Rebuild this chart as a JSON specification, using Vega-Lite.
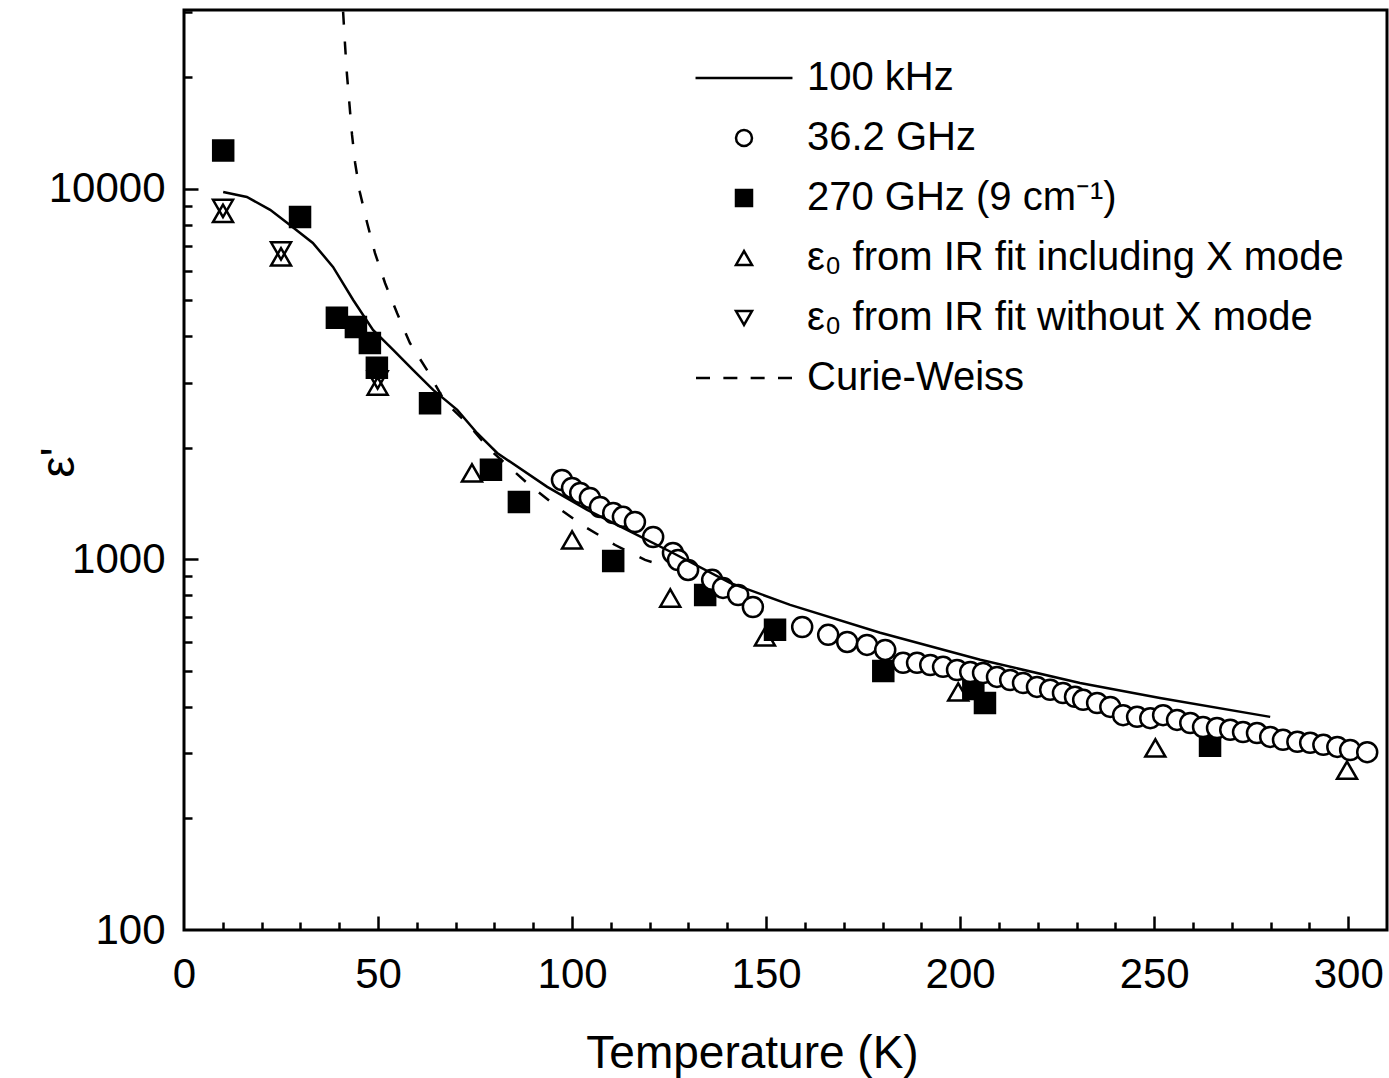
{
  "$schema": "https://vega.github.io/schema/vega-lite/v6.json",
  "width": 1203,
  "height": 920,
  "autosize": {"type": "none"},
  "padding": {"left": 184, "top": 10, "right": 2, "bottom": 148},
  "background": "white",
  "config": {
    "font": "Liberation Sans",
    "view": {"stroke": "black", "strokeWidth": 3},
    "axis": {"labelFont": "Liberation Sans", "titleFont": "Liberation Sans", "labelColor": "black", "titleColor": "black", "tickColor": "black", "grid": false, "domain": false},
    "legend": {"title": null, "orient": "none", "legendX": 540, "legendY": 48, "symbolSize": 256, "symbolStrokeWidth": 2.5,
      "labelFontSize": 40, "labelFont": "Liberation Sans", "labelColor": "black", "labelLimit": 0, "labelOffset": 43, "rowPadding": 20, "padding": 0}
  },
  "datasets": {
    "points": [
      {"T": 10.1, "eps": 12700, "series": "270 GHz (9 cm⁻¹)"},
      {"T": 29.9, "eps": 8400, "series": "270 GHz (9 cm⁻¹)"},
      {"T": 39.4, "eps": 4490, "series": "270 GHz (9 cm⁻¹)"},
      {"T": 44.3, "eps": 4240, "series": "270 GHz (9 cm⁻¹)"},
      {"T": 47.9, "eps": 3840, "series": "270 GHz (9 cm⁻¹)"},
      {"T": 49.7, "eps": 3290, "series": "270 GHz (9 cm⁻¹)"},
      {"T": 63.4, "eps": 2640, "series": "270 GHz (9 cm⁻¹)"},
      {"T": 79.1, "eps": 1745, "series": "270 GHz (9 cm⁻¹)"},
      {"T": 86.3, "eps": 1429, "series": "270 GHz (9 cm⁻¹)"},
      {"T": 110.6, "eps": 990, "series": "270 GHz (9 cm⁻¹)"},
      {"T": 134.3, "eps": 802, "series": "270 GHz (9 cm⁻¹)"},
      {"T": 152.3, "eps": 646, "series": "270 GHz (9 cm⁻¹)"},
      {"T": 180.2, "eps": 500, "series": "270 GHz (9 cm⁻¹)"},
      {"T": 203.4, "eps": 447, "series": "270 GHz (9 cm⁻¹)"},
      {"T": 206.4, "eps": 410, "series": "270 GHz (9 cm⁻¹)"},
      {"T": 264.4, "eps": 314, "series": "270 GHz (9 cm⁻¹)"},
      {"T": 10.05, "eps": 8590, "series": "ε₀ from IR fit including X mode"},
      {"T": 25.0, "eps": 6555, "series": "ε₀ from IR fit including X mode"},
      {"T": 49.9, "eps": 2938, "series": "ε₀ from IR fit including X mode"},
      {"T": 74.2, "eps": 1712, "series": "ε₀ from IR fit including X mode"},
      {"T": 100.0, "eps": 1129, "series": "ε₀ from IR fit including X mode"},
      {"T": 125.3, "eps": 787, "series": "ε₀ from IR fit including X mode"},
      {"T": 149.7, "eps": 618, "series": "ε₀ from IR fit including X mode"},
      {"T": 199.5, "eps": 439, "series": "ε₀ from IR fit including X mode"},
      {"T": 250.3, "eps": 310, "series": "ε₀ from IR fit including X mode"},
      {"T": 299.7, "eps": 270, "series": "ε₀ from IR fit including X mode"},
      {"T": 10.05, "eps": 8857, "series": "ε₀ from IR fit without X mode"},
      {"T": 25.0, "eps": 6802, "series": "ε₀ from IR fit without X mode"},
      {"T": 49.9, "eps": 3051, "series": "ε₀ from IR fit without X mode"},
      {"T": 97.4, "eps": 1639, "series": "36.2 GHz"},
      {"T": 100.0, "eps": 1560, "series": "36.2 GHz"},
      {"T": 102.1, "eps": 1512, "series": "36.2 GHz"},
      {"T": 104.6, "eps": 1466, "series": "36.2 GHz"},
      {"T": 107.2, "eps": 1386, "series": "36.2 GHz"},
      {"T": 110.6, "eps": 1335, "series": "36.2 GHz"},
      {"T": 113.1, "eps": 1303, "series": "36.2 GHz"},
      {"T": 116.2, "eps": 1262, "series": "36.2 GHz"},
      {"T": 120.9, "eps": 1150, "series": "36.2 GHz"},
      {"T": 126.0, "eps": 1041, "series": "36.2 GHz"},
      {"T": 127.3, "eps": 997, "series": "36.2 GHz"},
      {"T": 129.9, "eps": 937, "series": "36.2 GHz"},
      {"T": 136.1, "eps": 881, "series": "36.2 GHz"},
      {"T": 138.9, "eps": 838, "series": "36.2 GHz"},
      {"T": 142.8, "eps": 802, "series": "36.2 GHz"},
      {"T": 146.6, "eps": 744, "series": "36.2 GHz"},
      {"T": 159.3, "eps": 657, "series": "36.2 GHz"},
      {"T": 166.0, "eps": 626, "series": "36.2 GHz"},
      {"T": 170.9, "eps": 599, "series": "36.2 GHz"},
      {"T": 176.0, "eps": 588, "series": "36.2 GHz"},
      {"T": 180.7, "eps": 570, "series": "36.2 GHz"},
      {"T": 185.3, "eps": 526, "series": "36.2 GHz"},
      {"T": 188.9, "eps": 526, "series": "36.2 GHz"},
      {"T": 192.3, "eps": 519, "series": "36.2 GHz"},
      {"T": 195.6, "eps": 513, "series": "36.2 GHz"},
      {"T": 199.2, "eps": 503, "series": "36.2 GHz"},
      {"T": 202.6, "eps": 497, "series": "36.2 GHz"},
      {"T": 205.9, "eps": 494, "series": "36.2 GHz"},
      {"T": 209.5, "eps": 482, "series": "36.2 GHz"},
      {"T": 212.9, "eps": 473, "series": "36.2 GHz"},
      {"T": 216.2, "eps": 464, "series": "36.2 GHz"},
      {"T": 219.8, "eps": 453, "series": "36.2 GHz"},
      {"T": 223.2, "eps": 445, "series": "36.2 GHz"},
      {"T": 226.5, "eps": 436, "series": "36.2 GHz"},
      {"T": 229.6, "eps": 426, "series": "36.2 GHz"},
      {"T": 231.7, "eps": 418, "series": "36.2 GHz"},
      {"T": 235.3, "eps": 410, "series": "36.2 GHz"},
      {"T": 238.7, "eps": 400, "series": "36.2 GHz"},
      {"T": 242.0, "eps": 380, "series": "36.2 GHz"},
      {"T": 245.6, "eps": 376, "series": "36.2 GHz"},
      {"T": 249.0, "eps": 373, "series": "36.2 GHz"},
      {"T": 252.3, "eps": 380, "series": "36.2 GHz"},
      {"T": 255.9, "eps": 369, "series": "36.2 GHz"},
      {"T": 259.3, "eps": 362, "series": "36.2 GHz"},
      {"T": 262.6, "eps": 353, "series": "36.2 GHz"},
      {"T": 266.2, "eps": 351, "series": "36.2 GHz"},
      {"T": 269.6, "eps": 347, "series": "36.2 GHz"},
      {"T": 272.9, "eps": 342, "series": "36.2 GHz"},
      {"T": 276.5, "eps": 340, "series": "36.2 GHz"},
      {"T": 279.9, "eps": 332, "series": "36.2 GHz"},
      {"T": 283.2, "eps": 326, "series": "36.2 GHz"},
      {"T": 286.9, "eps": 322, "series": "36.2 GHz"},
      {"T": 290.2, "eps": 320, "series": "36.2 GHz"},
      {"T": 293.6, "eps": 316, "series": "36.2 GHz"},
      {"T": 297.2, "eps": 312, "series": "36.2 GHz"},
      {"T": 300.5, "eps": 306, "series": "36.2 GHz"},
      {"T": 304.9, "eps": 302, "series": "36.2 GHz"}
    ],
    "khz": [
      {"T": 10.1, "eps": 9810}, {"T": 16.2, "eps": 9515}, {"T": 22.2, "eps": 8780}, {"T": 27.3, "eps": 7995},
      {"T": 33.2, "eps": 7150}, {"T": 38.4, "eps": 6160}, {"T": 43.6, "eps": 5015}, {"T": 48.7, "eps": 4164},
      {"T": 53.9, "eps": 3677}, {"T": 59.0, "eps": 3247}, {"T": 64.2, "eps": 2868}, {"T": 70.4, "eps": 2533},
      {"T": 75.5, "eps": 2195}, {"T": 80.7, "eps": 1938}, {"T": 93.6, "eps": 1570}, {"T": 103.9, "eps": 1361},
      {"T": 115.7, "eps": 1179}, {"T": 126.0, "eps": 1041}, {"T": 140.7, "eps": 865}, {"T": 156.2, "eps": 754},
      {"T": 179.4, "eps": 634}, {"T": 205.2, "eps": 536}, {"T": 230.9, "eps": 464}, {"T": 251.5, "eps": 423},
      {"T": 279.9, "eps": 376}
    ],
    "cw": [
      {"T": 41.0, "eps": 30100}, {"T": 41.5, "eps": 24470}, {"T": 42.0, "eps": 20310}, {"T": 42.65, "eps": 16850},
      {"T": 43.3, "eps": 13990}, {"T": 44.1, "eps": 11750}, {"T": 45.3, "eps": 9815}, {"T": 47.2, "eps": 8095},
      {"T": 49.2, "eps": 6720}, {"T": 51.8, "eps": 5575}, {"T": 54.9, "eps": 4625}, {"T": 58.2, "eps": 3840},
      {"T": 62.6, "eps": 3247}, {"T": 67.3, "eps": 2661}, {"T": 72.9, "eps": 2336}, {"T": 78.9, "eps": 1975},
      {"T": 88.4, "eps": 1609}, {"T": 96.1, "eps": 1386}, {"T": 103.4, "eps": 1224}, {"T": 111.1, "eps": 1094},
      {"T": 118.8, "eps": 997}, {"T": 124.0, "eps": 960}
    ]
  },
  "layer": [
    {
      "data": {"name": "points"},
      "mark": {"type": "point", "filled": false, "strokeWidth": 2.5, "opacity": 1, "size": 400, "clip": true},
      "encoding": {
        "x": {"field": "T", "type": "quantitative", "scale": {"domain": [0, 310], "nice": false, "zero": false},
          "axis": {"orient": "bottom", "values": [0, 50, 100, 150, 200, 250, 300], "ticks": false, "tickSize": 0, "labelFontSize": 42, "labelPadding": 24, "labelFlush": false, "labelOverlap": false, "format": "d",
            "title": "Temperature (K)", "titleFontSize": 46, "titleFontWeight": "normal", "titleX": 568, "titleY": 137, "titleBaseline": "alphabetic", "titleAlign": "center"}},
        "y": {"field": "eps", "type": "quantitative", "scale": {"type": "log", "domain": [100, 30400], "nice": false, "zero": false},
          "axis": {"orient": "left", "values": [100, 1000, 10000], "ticks": false, "tickSize": 0, "labelFontSize": 42, "labelPadding": 19, "labelFlush": false, "labelOverlap": false, "format": "d",
            "title": "ε'", "titleFontSize": 48, "titleFontWeight": "normal", "titleAngle": -90, "titleX": -125, "titleY": 452, "titleBaseline": "middle", "titleAlign": "center"}},
        "shape": {"field": "series", "type": "nominal",
          "scale": {"domain": ["100 kHz", "36.2 GHz", "270 GHz (9 cm⁻¹)", "ε₀ from IR fit including X mode", "ε₀ from IR fit without X mode", "Curie-Weiss"],
            "range": ["M-6.06,0H6.06", "circle", "square", "triangle-up", "triangle-down", "M-6,0H-4.25M-2.58,0H-0.83M0.83,0H2.58M4.25,0H6"]},
          "legend": {"encode": {"symbols": {"strokeWidth": {"value": 2.5}}}}},
        "fill": {"field": "series", "type": "nominal",
          "scale": {"domain": ["100 kHz", "36.2 GHz", "270 GHz (9 cm⁻¹)", "ε₀ from IR fit including X mode", "ε₀ from IR fit without X mode", "Curie-Weiss"],
            "range": ["transparent", "white", "black", "transparent", "transparent", "transparent"]},
          "legend": {"encode": {"symbols": {"strokeWidth": {"value": 2.5}}}}},
        "stroke": {"field": "series", "type": "nominal",
          "scale": {"domain": ["100 kHz", "36.2 GHz", "270 GHz (9 cm⁻¹)", "ε₀ from IR fit including X mode", "ε₀ from IR fit without X mode", "Curie-Weiss"],
            "range": ["black", "black", "black", "black", "black", "black"]},
          "legend": {"encode": {"symbols": {"strokeWidth": {"value": 2.5}}}}}
      }
    },
    {
      "data": {"name": "khz"},
      "mark": {"type": "line", "stroke": "black", "strokeWidth": 2.5, "clip": true},
      "encoding": {
        "x": {"field": "T", "type": "quantitative",
          "axis": {"orient": "bottom", "values": [50, 100, 150, 200, 250, 300], "labels": false, "tickSize": -14, "tickWidth": 2.5, "title": null}},
        "y": {"field": "eps", "type": "quantitative",
          "axis": {"orient": "left", "values": [1000, 10000], "labels": false, "tickSize": -14, "tickWidth": 2.5, "title": null}}
      }
    },
    {
      "data": {"name": "cw"},
      "mark": {"type": "line", "stroke": "black", "strokeWidth": 2.5, "strokeDash": [13, 17], "clip": true},
      "encoding": {
        "x": {"field": "T", "type": "quantitative",
          "axis": {"orient": "bottom", "values": [10, 20, 30, 40, 60, 70, 80, 90, 110, 120, 130, 140, 160, 170, 180, 190, 210, 220, 230, 240, 260, 270, 280, 290], "labels": false, "tickSize": -8, "tickWidth": 2.5, "title": null}},
        "y": {"field": "eps", "type": "quantitative",
          "axis": {"orient": "left", "values": [200, 300, 400, 500, 600, 700, 800, 900, 2000, 3000, 4000, 5000, 6000, 7000, 8000, 9000, 20000, 30000], "labels": false, "tickSize": -8, "tickWidth": 2.5, "title": null}}
      }
    }
  ],
  "resolve": {"axis": {"x": "independent", "y": "independent"}}
}
